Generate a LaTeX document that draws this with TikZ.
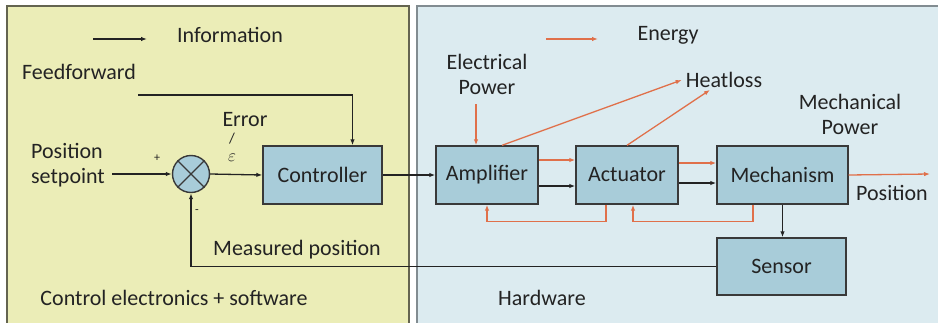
\documentclass[tikz,border=0pt]{standalone}
\usepackage{fontspec}
\setmainfont{Carlito}
\usetikzlibrary{arrows.meta}
\definecolor{leftbg}{RGB}{235,237,183}
\definecolor{rightbg}{RGB}{220,235,240}
\definecolor{boxfill}{RGB}{168,204,217}
\definecolor{energy}{RGB}{224,112,74}
\definecolor{txt}{RGB}{35,35,35}
\definecolor{leftborder}{RGB}{100,100,80}
\definecolor{rightborder}{RGB}{130,140,145}
\tikzset{
  blk/.style={draw=txt!90, line width=1.4pt, fill=boxfill, minimum height=58pt, inner sep=0pt, text=txt},
  info/.style={draw=txt, line width=1.3pt, -{Latex[length=6pt,width=4.5pt]}},
  en/.style={draw=energy, line width=1.3pt, -{Latex[length=6pt,width=4.5pt]}},
  lbl/.style={text=txt, inner sep=2pt, align=center},
  sml/.style={text=txt, inner sep=0pt, font=\fontsize{12}{12}\selectfont}
}
\begin{document}
\begin{tikzpicture}[x=1pt,y=-1pt, font=\fontsize{22}{25}\selectfont]
\useasboundingbox (0,0) rectangle (938,322);
\clip (0,0) rectangle (938,322);
\fill[white] (0,0) rectangle (938,322);
% panels
\draw[fill=leftbg, draw=leftborder, line width=1.3pt] (7,6) rectangle (409,340);
\draw[fill=rightbg, draw=rightborder, line width=1.3pt] (417,6) rectangle (960,340);

% legend
\coordinate (li1) at (93,39); \coordinate (li2) at (147,39);
\draw[info] (li1) -- (li2);
\node[lbl] (infolbl) at (230,35) {Information};
\coordinate (le1) at (546,39); \coordinate (le2) at (598,39);
\draw[en] (le1) -- (le2);
\node[lbl] (enlbl) at (668,35) {Energy};

% blocks
\node[blk, minimum width=119pt] (ctrl) at (322.5,175) {Controller};
\node[blk, minimum width=102pt] (amp) at (487,175) {Amplifier};
\node[blk, minimum width=102pt] (act) at (627,175) {Actuator};
\node[blk, minimum width=131pt] (mech) at (782.5,175) {Mechanism};
\node[blk, minimum width=129pt, minimum height=57pt] (sens) at (781.5,266.5) {Sensor};
\node[draw=txt!90, line width=1.4pt, fill=boxfill, circle, minimum size=37pt, inner sep=0pt] (sum) at (191,174) {};
\draw[txt!90, line width=1.2pt] (sum.north west) -- (sum.south east) (sum.north east) -- (sum.south west);

% labels
\node[lbl] (ffl) at (79,72) {Feedforward};
\node[lbl, align=left] (spl) at (68,165) {Position\\setpoint};
\node[lbl] (errl) at (245,120) {Error};
\node[sml, font=\fontsize{15}{15}\selectfont] (slash) at (232,139) {/};
\node[text=txt, inner sep=0pt] (eps) at (232,158) {\fontsize{17}{17}\selectfont$\varepsilon$};
\node[sml] (plus) at (157,158) {+};
\node[sml] (minus) at (197,212) {-};
\node[lbl] (measl) at (297,250) {Measured position};
\node[lbl] (cel) at (174,298) {Control electronics + software};
\node[lbl] (epl) at (487,74) {Electrical\\Power};
\node[lbl, inner sep=4pt] (heat) at (724,80) {Heatloss};
\node[lbl] (mpl) at (850,114) {Mechanical\\Power};
\node[lbl] (posl) at (892,193) {Position};
\node[lbl] (hwl) at (542,298) {Hardware};

% information connectors
\coordinate (ff) at (138,95);
\draw[info] (ff) -| ([xshift=30pt]ctrl.north);
\coordinate (sp) at (112,174);
\draw[info] (sp) -- (sum.west);
\draw[info] (sum.east) -- (ctrl.west);
\draw[info] (ctrl.east) -- (amp.west);
\draw[info] ([yshift=-11pt]amp.east) -- ([yshift=-11pt]act.west);
\draw[info] ([yshift=-8pt]act.east) -- ([yshift=-8pt]mech.west);
\draw[info] (mech.south) -- (mech.south |- sens.north);
\draw[info] (sens.west) -| (sum.south);

% energy connectors
\coordinate (ep) at (476,104);
\draw[en] (ep) -- (ep |- amp.north);
\draw[en] ([xshift=15pt]amp.north) -- (heat.west);
\draw[en] (act.north) -- ([xshift=-14pt,yshift=2pt]heat.south);
\draw[en] ([yshift=15pt]amp.east) -- ([yshift=15pt]act.west);
\draw[en] ([yshift=12pt]act.east) -- ([yshift=12pt]mech.west);
\coordinate (posend) at (930,174);
\draw[en] (mech.east) -- (posend);
\draw[en] ([xshift=-21pt]act.south) -- ++(0,17) -| (amp.south);
\draw[en] ([xshift=-29.5pt]mech.south) -- ++(0,17) -| ([xshift=6pt]act.south);
\end{tikzpicture}
\end{document}
